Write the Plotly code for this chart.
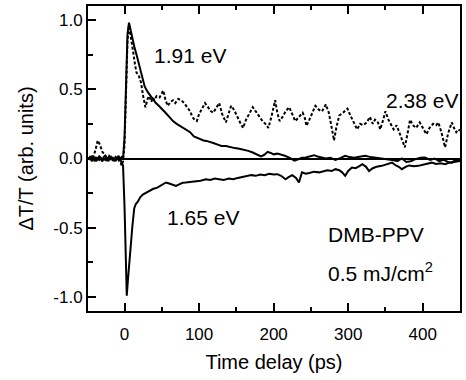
import plotly.graph_objects as go

# 2.38 eV (dashed)
t_238 = [-48, -45, -42, -39, -36, -33, -30, -27, -24, -21, -18, -15, -12, -9, -6, -4, -2, 0, 2, 4, 6, 8,
         11, 14, 16, 19, 22, 25, 28, 31, 33, 36, 38, 40, 43, 47, 50, 52, 55, 58, 62, 65, 68, 72, 76, 80,
         84, 88, 91, 94, 97, 100, 104, 108, 112, 116, 119, 123, 127, 131, 136, 140, 143, 147, 151, 155,
         159, 163, 167, 172, 176, 181, 185, 189, 193, 197, 202, 205, 208, 212, 216, 221, 225, 229, 234,
         239, 242, 244, 248, 252, 256, 261, 265, 270, 274, 278, 281, 284, 288, 293, 299, 303, 307, 312,
         316, 320, 325, 329, 333, 336, 340, 343, 347, 350, 354, 358, 361, 365, 369, 373, 376, 380, 383,
         387, 391, 396, 400, 405, 409, 414, 418, 421, 425, 430, 434, 439, 442, 445, 448, 450]
v_238 = [0.00, 0.02, 0.01, 0.06, 0.13, 0.10, 0.05, 0.03, 0.01, 0.02, -0.01, 0.01, 0.00, -0.02, -0.01, -0.05,
         -0.02, 0.10, 0.45, 0.85, 0.96, 0.90, 0.79, 0.68, 0.62, 0.60, 0.55, 0.45, 0.37, 0.43, 0.45, 0.41,
         0.44, 0.42, 0.45, 0.44, 0.47, 0.49, 0.42, 0.38, 0.41, 0.42, 0.40, 0.43, 0.42, 0.40, 0.37, 0.34,
         0.30, 0.28, 0.27, 0.32, 0.36, 0.40, 0.37, 0.34, 0.33, 0.37, 0.40, 0.32, 0.26, 0.33, 0.38, 0.35,
         0.30, 0.26, 0.22, 0.28, 0.32, 0.37, 0.34, 0.30, 0.27, 0.25, 0.22, 0.30, 0.42, 0.33, 0.27, 0.30,
         0.34, 0.37, 0.32, 0.27, 0.30, 0.33, 0.29, 0.235, 0.28, 0.33, 0.38, 0.35, 0.34, 0.39, 0.33, 0.22,
         0.13, 0.22, 0.31, 0.33, 0.36, 0.31, 0.26, 0.21, 0.25, 0.24, 0.26, 0.30, 0.25, 0.28, 0.26, 0.21,
         0.28, 0.34, 0.28, 0.24, 0.21, 0.24, 0.18, 0.12, 0.08, 0.19, 0.28, 0.24, 0.22, 0.26, 0.22, 0.175,
         0.22, 0.25, 0.24, 0.26, 0.19, 0.08, 0.18, 0.26, 0.22, 0.19, 0.21, 0.20]

# 1.91 eV (solid, positive)
t_191 = [-48, -46, -44, -42, -40, -38, -36, -34, -32, -30, -28, -26, -24, -22, -20, -18, -16, -14, -12, -10,
         -8, -6, -4, -2, 0, 2, 4, 6, 9, 13, 17, 20, 24, 27, 31, 35, 38, 42, 46, 51, 55, 60, 65, 70, 76, 82,
         88, 93, 97, 102, 106, 110, 115, 120, 125, 130, 136, 142, 148, 154, 160, 166, 172, 178, 183, 187,
         192, 196, 200, 205, 210, 215, 221, 225, 228, 233, 238, 243, 249, 254, 259, 265, 270, 276, 283,
         290, 296, 302, 308, 315, 323, 330, 338, 345, 352, 359, 366, 372, 378, 384, 390, 397, 403, 410,
         416, 422, 428, 434, 439, 444, 450]
v_191 = [0.01, -0.01, 0.02, 0.00, -0.02, 0.01, -0.01, 0.02, 0.00, -0.02, 0.01, 0.02, -0.01, 0.00, 0.02,
         -0.01, 0.01, -0.02, 0.01, 0.00, 0.02, -0.01, 0.01, 0.00, 0.15, 0.55, 0.90, 0.98, 0.90, 0.81, 0.73,
         0.67, 0.58, 0.52, 0.48, 0.45, 0.43, 0.40, 0.38, 0.356, 0.33, 0.30, 0.27, 0.25, 0.23, 0.21, 0.19,
         0.16, 0.15, 0.14, 0.13, 0.127, 0.12, 0.11, 0.10, 0.09, 0.09, 0.08, 0.075, 0.07, 0.065, 0.055, 0.043,
         0.03, 0.015, 0.025, 0.048, 0.04, 0.03, 0.035, 0.03, 0.02, 0.007, -0.005, -0.015, -0.005, 0.005,
         0.008, 0.015, 0.024, 0.015, 0.005, 0.0, 0.005, -0.01, 0.005, 0.019, 0.01, 0.005, 0.012, 0.019,
         0.01, 0.005, 0.0, -0.005, -0.01, -0.02, 0.0, -0.025, -0.02, -0.005, 0.005, 0.007, -0.01, 0.0,
         -0.02, -0.01, -0.025, -0.03, -0.01, -0.02]

# 1.65 eV (solid, negative)
t_165 = [-48, -46, -44, -42, -40, -38, -36, -34, -32, -30, -28, -26, -24, -22, -20, -18, -16, -14, -12, -10,
         -8, -6, -4, -2, 0, 1.5, 3, 4.5, 6.5, 8.5, 10.5, 13, 15, 18, 21, 24.5, 28, 33, 38, 44, 50, 55.6, 60,
         64, 69, 74, 78, 82, 88, 95, 102, 109, 115, 121, 127, 133, 140, 146, 152, 158, 164, 170, 176, 182,
         188, 194, 200, 205, 210, 216, 220, 225, 230, 234, 238, 243, 248, 254, 261, 267, 272, 278, 283,
         288, 292, 296, 300, 305, 310, 315, 319, 324, 328, 333, 338, 345, 350, 355, 359, 364, 368, 372,
         377, 382, 388, 394, 400, 406, 412, 418, 424, 430, 436, 442, 447, 450]
v_165 = [-0.01, 0.01, -0.02, 0.00, 0.01, -0.02, 0.00, -0.01, 0.01, -0.02, 0.00, -0.01, 0.01, -0.02, 0.00,
         0.01, -0.01, 0.00, -0.02, 0.01, -0.01, 0.00, -0.03, -0.05, -0.35, -0.75, -0.99, -0.88, -0.73,
         -0.60, -0.49, -0.36, -0.33, -0.31, -0.28, -0.26, -0.25, -0.234, -0.22, -0.21, -0.19, -0.173,
         -0.18, -0.19, -0.198, -0.185, -0.175, -0.173, -0.17, -0.162, -0.16, -0.15, -0.155, -0.145, -0.15,
         -0.155, -0.145, -0.15, -0.14, -0.135, -0.13, -0.12, -0.125, -0.115, -0.12, -0.11, -0.115, -0.113,
         -0.125, -0.15, -0.135, -0.12, -0.14, -0.173, -0.10, -0.11, -0.105, -0.095, -0.10, -0.09, -0.085,
         -0.09, -0.077, -0.085, -0.10, -0.125, -0.09, -0.065, -0.07, -0.055, -0.041, -0.06, -0.09, -0.07,
         -0.06, -0.053, -0.045, -0.04, -0.03, -0.05, -0.06, -0.077, -0.06, -0.05, -0.055, -0.053, -0.045,
         -0.04, -0.03, -0.04, -0.035, -0.041, -0.03, -0.025, -0.02, -0.017]

x_tickvals = [0, 100, 200, 300, 400]
x_ticktext = ["0", "100", "200", "300", "400"]
y_tickvals = [-1.0, -0.5, 0.0, 0.5, 1.0]
y_ticktext = ["-1.0", "-0.5", "0.0", "0.5", "1.0"]

labels = ["1.91 eV", "2.38 eV", "1.65 eV", "DMB-PPV", "0.5 mJ/cm<sup>2</sup>"]
label_x = [37, 347.6, 54, 270, 270]
label_y = [0.74, 0.416, -0.426, -0.55, -0.82]

FONT = "Arial, Liberation Sans, sans-serif"

fig = go.Figure()
fig.add_trace(go.Scatter(x=t_191, y=v_191, mode="lines", line=dict(color="black", width=2), name="1.91 eV"))
fig.add_trace(go.Scatter(x=t_165, y=v_165, mode="lines", line=dict(color="black", width=2), name="1.65 eV"))
fig.add_trace(go.Scatter(x=t_238, y=v_238, mode="lines",
                         line=dict(color="black", width=2, dash="3px,2px"), name="2.38 eV"))

for txt, ax_, ay_ in zip(labels, label_x, label_y):
    fig.add_annotation(x=ax_, y=ay_, xref="x", yref="y", text=txt, showarrow=False,
                       xanchor="left", yanchor="middle",
                       font=dict(family=FONT, size=21, color="black"))

fig.update_layout(
    width=466, height=380,
    margin=dict(l=88, r=4, t=6, b=69),
    paper_bgcolor="white", plot_bgcolor="white",
    showlegend=False,
    font=dict(family=FONT, color="black"),
)
fig.update_xaxes(
    range=[-49, 450], showgrid=False, zeroline=False, automargin=True,
    showline=True, linecolor="black", linewidth=2, mirror="allticks",
    ticks="inside", ticklen=8, tickwidth=1.5, tickcolor="black",
    tickvals=x_tickvals, ticktext=x_ticktext, ticklabelstandoff=7,
    tickfont=dict(family=FONT, size=17, color="black"),
    minor=dict(dtick=50, tick0=0, ticks="inside", ticklen=4, tickwidth=1.5, tickcolor="black"),
    title=dict(text="Time delay (ps)", font=dict(family=FONT, size=20, color="black"), standoff=12),
)
fig.update_yaxes(
    range=[-1.1, 1.1], showgrid=False, automargin=True,
    zeroline=True, zerolinecolor="black", zerolinewidth=1.5,
    showline=True, linecolor="black", linewidth=2, mirror=True,
    ticks="inside", ticklen=8, tickwidth=1.5, tickcolor="black",
    tickvals=y_tickvals, ticktext=y_ticktext,
    tickfont=dict(family=FONT, size=17, color="black"),
    minor=dict(dtick=0.25, tick0=0, ticks="inside", ticklen=5, tickwidth=1.5, tickcolor="black"),
    title=dict(text="ΔT/T (arb. units)", font=dict(family=FONT, size=20, color="black"), standoff=14),
)

fig.write_html("out.html")
